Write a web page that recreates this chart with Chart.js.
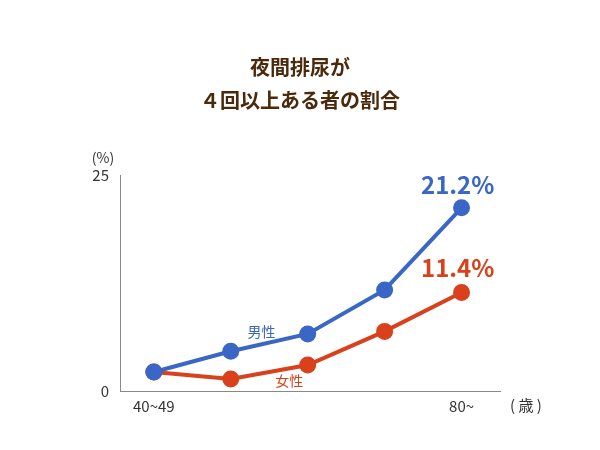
<!DOCTYPE html>
<html><head><meta charset="utf-8">
<script src="https://cdn.jsdelivr.net/npm/chart.js@4"></script>
<style>body{margin:0;background:#fff}#w{width:600px;height:450px}</style>
</head><body><div id="w"><canvas id="c"></canvas></div>
<script>
const categories = ["40~49","50~59","60~69","70~79","80~"];
const male = [2.2, 4.6, 6.6, 11.7, 21.2];
const female = [2.2, 1.4, 3.0, 6.9, 11.4];
const yTicks = [0, 25];
const blue = "#3a66c6", red = "#d8411b", brown = "#4b2a0c";
const font = "'Noto Sans CJK JP', sans-serif";
const labels = {
  id: "labels",
  afterDraw(ch) {
    const c = ch.ctx, x = ch.scales.x, y = ch.scales.y;
    c.save();
    c.textAlign = "center"; c.textBaseline = "middle";
    c.fillStyle = brown; c.font = "bold 20px " + font;
    c.fillText("夜間排尿が", 300, 67);
    c.fillText("４回以上ある者の割合", 300, 100);
    c.fillStyle = "#333"; c.font = "14px " + font;
    c.fillText("(%)", 103, 158);
    c.font = "15px " + font;
    c.fillText("( 歳 )", 526, 405);
    c.fillStyle = blue; c.font = "14px " + font;
    c.fillText("男性", x.getPixelForValue(1.4), y.getPixelForValue(6.9));
    c.fillStyle = red;
    c.fillText("女性", x.getPixelForValue(1.76), y.getPixelForValue(1.2));
    c.font = "bold 24px " + font;
    c.fillStyle = blue;
    c.fillText(male[4].toFixed(1) + "%", x.getPixelForValue(3.95), y.getPixelForValue(23.9));
    c.fillStyle = red;
    c.fillText(female[4].toFixed(1) + "%", x.getPixelForValue(3.95), y.getPixelForValue(14.2));
    c.restore();
  }
};
new Chart(document.getElementById("c"), {
  type: "line",
  data: { datasets: [
    { data: male.map((v,i)=>({x:i,y:v})), borderColor: blue, backgroundColor: blue, borderWidth: 4, pointRadius: 6.5, pointHoverRadius: 6.5 },
    { data: female.map((v,i)=>({x:i,y:v})), borderColor: red, backgroundColor: red, borderWidth: 4, pointRadius: 6.5, pointHoverRadius: 6.5 }
  ]},
  options: {
    responsive: true, maintainAspectRatio: false, animation: false,
    layout: { padding: { left: 80, right: 100, top: 175, bottom: 29 } },
    plugins: { legend: { display: false }, tooltip: { enabled: false } },
    scales: {
      x: { type: "linear", min: -0.44, max: 4.5, afterFit: s => { s.height = 30; },
        grid: { display: false, drawTicks: false }, border: { color: "#888" },
        afterBuildTicks: s => { s.ticks = [{value:0},{value:4}]; },
        ticks: { padding: 6, color: "#333", font: { size: 15, family: font }, callback: v => v === 0 ? categories[0] : categories[4] } },
      y: { min: 0, max: 25, afterFit: s => { s.width = 40; },
        grid: { display: false }, border: { color: "#888" },
        afterBuildTicks: s => { s.ticks = yTicks.map(v=>({value:v})); },
        ticks: { color: "#333", font: { size: 15, family: font } } }
    }
  },
  plugins: [labels]
});
</script></body></html>
